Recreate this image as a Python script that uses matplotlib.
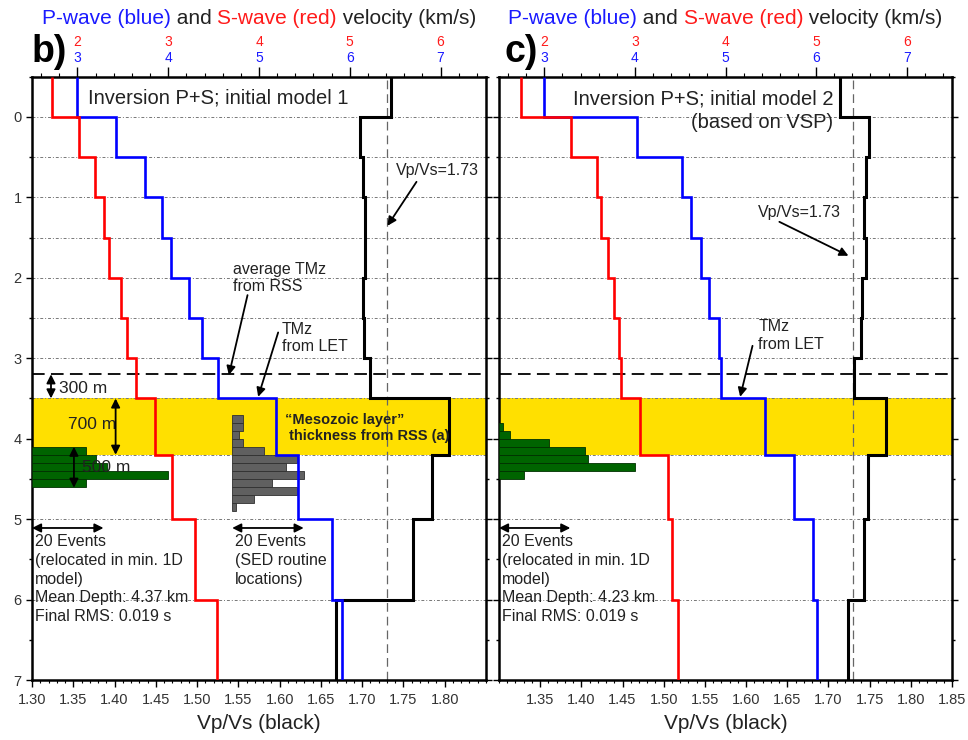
import numpy as np
import matplotlib
matplotlib.use("Agg")
import matplotlib.pyplot as plt
from matplotlib.ticker import MultipleLocator
from matplotlib.offsetbox import TextArea, HPacker, AnchoredOffsetbox

plt.rcParams['font.family'] = ['Liberation Sans', 'DejaVu Sans']

# layer boundaries of the 1D model (km)
edges = [-0.5, 0, 0.5, 1, 1.5, 2, 2.5, 3, 3.5, 4.2, 5, 6, 7]

# panel b) initial model 1
vp_b = [3.00, 3.42, 3.745, 3.93, 4.035, 4.23, 4.37, 4.545, 5.19, 5.43, 5.80, 5.91]
vs_b = [1.72, 2.02, 2.19, 2.29, 2.35, 2.48, 2.55, 2.64, 2.86, 3.04, 3.29, 3.54]
vpvs_b = [1.735, 1.697, 1.701, 1.704, 1.703, 1.701, 1.702, 1.709, 1.805, 1.785, 1.761, 1.668]

# panel c) initial model 2 (VSP)
vp_c = [3.00, 4.02, 4.52, 4.62, 4.73, 4.82, 4.93, 4.95, 5.44, 5.76, 5.97, 6.01]
vs_c = [1.74, 2.29, 2.58, 2.63, 2.70, 2.77, 2.82, 2.85, 3.06, 3.37, 3.41, 3.48]
vpvs_c = [1.7135, 1.749, 1.746, 1.743, 1.746, 1.741, 1.739, 1.731, 1.770, 1.748, 1.743, 1.724]

# event depth histograms, bin tops (km) and counts, 0.1 km bins
reloc_b_top = [4.1, 4.2, 4.3, 4.4, 4.5]
reloc_b_n = [15, 18, 21, 38, 15]
reloc_c_top = [3.8, 3.9, 4.0, 4.1, 4.2, 4.3, 4.4]
reloc_c_n = [1, 3, 14, 24, 25, 38, 7]
sed_top = [3.7, 3.8, 3.9, 4.0, 4.1, 4.2, 4.3, 4.4, 4.5, 4.6, 4.7, 4.8]
sed_n = [3, 3, 2, 3, 9, 18, 15, 20, 11, 18, 6, 1]

boundaries = edges[1:-1]
tmz_rss = 3.2
meso_top, meso_bot = 3.5, 4.2
binw = 0.1

fig = plt.figure(figsize=(9.68, 7.40), dpi=100)


def arrow(axt, ax, xy, xytext, style='-|>'):
    axt.annotate('', xy=xy, xytext=xytext, xycoords=ax.transData,
                 arrowprops=dict(arrowstyle=style, color='black', lw=1.3,
                                 mutation_scale=13, shrinkA=0, shrinkB=0))


def panel(rect, vp, vs, vpvs, htop, hn, xt_labels, letter, left_labels):
    ax = fig.add_axes(rect)
    ax.set_xlim(1.30, 1.85)
    ax.set_ylim(7, -0.5)

    ax.axhspan(meso_top, meso_bot, color='#FFE000', lw=0, zorder=0)
    for d in boundaries:
        ax.axhline(d, color='#777777', lw=0.7, ls=(0, (3, 2, 1, 2)), zorder=1)
    ax.axhline(tmz_rss, color='black', lw=1.3, ls=(0, (7, 3.5)), zorder=2)
    ax.axvline(1.73, color='#666666', lw=0.9, ls=(0, (7, 4)), zorder=2)
    ax.stairs(vpvs, edges, orientation='horizontal', baseline=None,
              color='black', lw=2.2, zorder=3)

    ax.set_xticks([float(t) for t in xt_labels], xt_labels)
    ax.xaxis.set_minor_locator(MultipleLocator(0.01))
    ax.yaxis.set_major_locator(MultipleLocator(1))
    ax.yaxis.set_minor_locator(MultipleLocator(0.5))
    ax.tick_params(axis='x', which='major', length=5, width=1, labelsize=10.5,
                   pad=4, labelcolor='#333333')
    ax.tick_params(axis='x', which='minor', length=2.5, width=0.8)
    ax.tick_params(axis='y', which='both', left=True, right=True, width=1,
                   labelleft=left_labels, labelsize=10.5, labelcolor='#333333')
    ax.tick_params(axis='y', which='major', length=4)
    ax.tick_params(axis='y', which='minor', length=2.5)
    for s in ax.spines.values():
        s.set_linewidth(1.8)
    ax.set_xlabel('Vp/Vs (black)', fontsize=15, labelpad=5, color='#222222')

    # histograms in "events" units
    ax_h = ax.twiny()
    ax_h.set_xlim(0, 127)
    ax_h.axis('off')
    ax_h.barh(np.array(htop) + binw / 2, hn, height=binw, left=0,
              color='#006400', edgecolor='#003000', lw=0.6)

    # P and S velocity axes on top
    ax_p = ax.twiny()
    ax_p.set_xlim(2.5, 7.5)
    ax_p.xaxis.set_major_locator(MultipleLocator(1))
    ax_p.xaxis.set_minor_locator(MultipleLocator(0.2))
    ax_p.tick_params(axis='x', which='major', length=7, width=1, pad=1.5,
                     labelsize=10, labelcolor='#1a1aff')
    ax_p.tick_params(axis='x', which='minor', length=3, width=0.8)
    for s in ax_p.spines.values():
        s.set_visible(False)
    ax_p.stairs(vp, edges, orientation='horizontal', baseline=None,
                color='#0000ff', lw=1.9)

    ax_s = ax.twiny()
    ax_s.set_xlim(1.5, 6.5)
    ax_s.set_xticks([2, 3, 4, 5, 6])
    ax_s.tick_params(axis='x', length=0, pad=20, labelsize=10, labelcolor='#ff1a1a')
    for s in ax_s.spines.values():
        s.set_visible(False)
    ax_s.stairs(vs, edges, orientation='horizontal', baseline=None,
                color='#ff0000', lw=1.9)

    # coloured title
    parts = [('P-wave (blue)', '#1a1aff'), (' and ', '#222222'),
             ('S-wave (red)', '#ff1a1a'), (' velocity (km/s)', '#222222')]
    box = HPacker(children=[TextArea(t, textprops=dict(color=c, size=15))
                            for t, c in parts], align='baseline', pad=0, sep=0)
    ab = AnchoredOffsetbox(loc='center', child=box, pad=0, borderpad=0, frameon=False,
                           bbox_to_anchor=(0.5, 1.096), bbox_transform=ax.transAxes)
    ax_s.add_artist(ab)

    fig.text(rect[0] + (0.0 if letter == 'b)' else 0.006), 1 - 62 / 740, letter,
             fontsize=27, fontweight='bold', va='baseline', ha='left')

    # 20 events scale arrow
    ax_s.annotate('', xy=(20, 5.11), xytext=(0, 5.11), xycoords=ax_h.transData,
                  arrowprops=dict(arrowstyle='<|-|>', color='black', lw=1.3,
                                  mutation_scale=13, shrinkA=0, shrinkB=0))
    return ax, ax_h, ax_s


tk_b = ['1.30', '1.35', '1.40', '1.45', '1.50', '1.55', '1.60', '1.65', '1.70', '1.75', '1.80']
tk_c = ['1.35', '1.40', '1.45', '1.50', '1.55', '1.60', '1.65', '1.70', '1.75', '1.80', '1.85']

# ---- panel b ----
ax, ax_h, top = panel([32 / 968, 0.081, 454 / 968, 0.8155], vp_b, vs_b, vpvs_b,
                      reloc_b_top, reloc_b_n, tk_b, 'b)', True)
ax_h.barh(np.array(sed_top) + binw / 2, sed_n, height=binw, left=56,
          color='#606060', edgecolor='#303030', lw=0.6)
tr = ax.transData
fs = 11.5
top.text(1.3674, -0.24, 'Inversion P+S; initial model 1', transform=tr, fontsize=14.5,
         va='center', ha='left', color='#222222')
top.text(1.7407, 0.67, 'Vp/Vs=1.73', transform=tr, fontsize=fs, va='center', color='#222222')
arrow(top, ax, (1.7306, 1.355), (1.7658, 0.808))
top.text(1.543, 2.0, 'average TMz\nfrom RSS', transform=tr, fontsize=fs, va='center',
         color='#222222', linespacing=1.2)
arrow(top, ax, (1.5385, 3.21), (1.5611, 2.216))
top.text(1.6023, 2.75, 'TMz\nfrom LET', transform=tr, fontsize=fs, va='center',
         color='#222222', linespacing=1.2)
arrow(top, ax, (1.574, 3.48), (1.5982, 2.68))
top.text(1.333, 3.375, '300 m', transform=tr, fontsize=12.5, va='center', color='#222222')
arrow(top, ax, (1.323, 3.5), (1.323, 3.2), '<|-|>')
top.text(1.344, 3.83, '700 m', transform=tr, fontsize=12.5, va='center', color='#222222')
arrow(top, ax, (1.4013, 4.2), (1.4013, 3.5), '<|-|>')
top.text(1.360, 4.36, '500 m', transform=tr, fontsize=12.5, va='center', color='#222222')
arrow(top, ax, (1.3508, 4.61), (1.3508, 4.1), '<|-|>')
top.text(1.6063, 3.87, '\u201cMesozoic layer\u201d\n thickness from RSS (a)', transform=tr,
         fontsize=10.5, fontweight='bold', va='center', color='#222222', linespacing=1.2)
top.text(1.3036, 5.19, '20 Events\n(relocated in min. 1D\nmodel)\nMean Depth: 4.37 km\nFinal RMS: 0.019 s',
         transform=tr, fontsize=fs, va='top', color='#222222', linespacing=1.3)
top.text(1.5458, 5.19, '20 Events\n(SED routine\nlocations)', transform=tr, fontsize=fs,
         va='top', color='#222222', linespacing=1.3)
top.annotate('', xy=(76, 5.11), xytext=(56, 5.11), xycoords=ax_h.transData,
             arrowprops=dict(arrowstyle='<|-|>', color='black', lw=1.3,
                             mutation_scale=13, shrinkA=0, shrinkB=0))

# ---- panel c ----
ax2, ax2_h, top2 = panel([499 / 968, 0.081, 453 / 968, 0.8155], vp_c, vs_c, vpvs_c,
                         reloc_c_top, reloc_c_n, tk_c, 'c)', False)
tr2 = ax2.transData
top2.text(1.7062, -0.07, 'Inversion P+S; initial model 2\n(based on VSP)', transform=tr2,
          fontsize=14.5, va='center', ha='right', multialignment='right',
          color='#222222', linespacing=1.3)
top2.text(1.6147, 1.193, 'Vp/Vs=1.73', transform=tr2, fontsize=fs, va='center', color='#222222')
arrow(top2, ax2, (1.7243, 1.727), (1.6404, 1.305))
top2.text(1.6147, 2.72, 'TMz\nfrom LET', transform=tr2, fontsize=fs, va='center',
          color='#222222', linespacing=1.2)
arrow(top2, ax2, (1.5928, 3.48), (1.6078, 2.846))
top2.text(1.3036, 5.19, '20 Events\n(relocated in min. 1D\nmodel)\nMean Depth: 4.23 km\nFinal RMS: 0.019 s',
          transform=tr2, fontsize=fs, va='top', color='#222222', linespacing=1.3)

fig.savefig('out.png', dpi=100)
